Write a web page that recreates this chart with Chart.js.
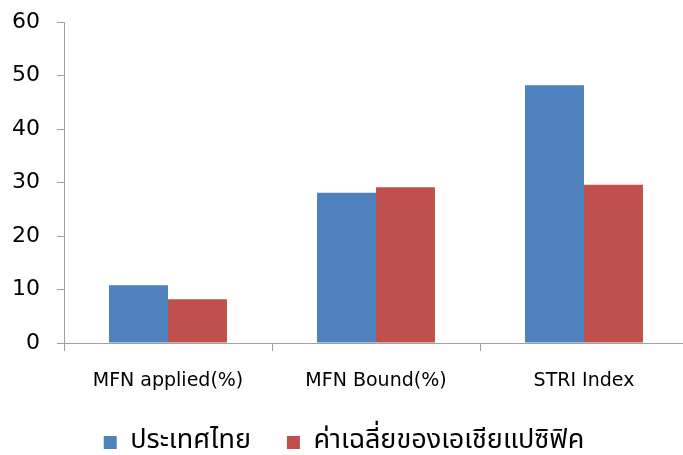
<!DOCTYPE html>
<html>
<head>
<meta charset="utf-8">
<script src="https://cdn.jsdelivr.net/npm/chart.js@4/dist/chart.umd.min.js"></script>
<style>
  html, body { margin: 0; padding: 0; background: #fff; overflow: hidden; }
  #wrap { position: relative; width: 690px; height: 470px; }
</style>
</head>
<body>
<div id="wrap"><canvas id="c"></canvas></div>
<script>
const categories = ["MFN applied(%)", "MFN Bound(%)", "STRI Index"];
const seriesNames = ["ประเทศไทย", "ค่าเฉลี่ยของเอเชียแปซิฟิค"];
const thailand = [10.8, 28.1, 48.2];
const asiaPacific = [8.2, 29.1, 29.6];
const yTicks = [0, 10, 20, 30, 40, 50, 60];

const axisGray = '#A0A0A0';

new Chart(document.getElementById('c'), {
  type: 'bar',
  data: {
    labels: categories,
    datasets: [
      { label: seriesNames[0], data: thailand, backgroundColor: '#4F81BD', borderWidth: 0 },
      { label: seriesNames[1], data: asiaPacific, backgroundColor: '#C0504D', borderWidth: 0 }
    ]
  },
  options: {
    responsive: true,
    maintainAspectRatio: false,
    animation: false,
    layout: { padding: { left: 0, right: 2, top: 0, bottom: 4 } },
    datasets: { bar: { categoryPercentage: 0.567, barPercentage: 1.0 } },
    plugins: {
      tooltip: { enabled: false },
      legend: {
        position: 'bottom',
        labels: {
          boxWidth: 13,
          boxHeight: 13,
          padding: 36,
          color: '#000',
          font: { family: '"Noto Sans Thai", "Noto Sans", "DejaVu Sans", sans-serif', size: 27 }
        }
      }
    },
    scales: {
      x: {
        afterFit: (s) => { s.height = 50; },
        grid: { display: true, drawOnChartArea: false, drawTicks: true, tickLength: 8, color: axisGray, lineWidth: 1, offset: true },
        border: { display: true, color: axisGray, width: 1 },
        ticks: { color: '#000', padding: 19, font: { family: '"DejaVu Sans", sans-serif', size: 19 } }
      },
      y: {
        min: 0,
        max: 60,
        afterFit: (s) => { s.width = 64; s.paddingTop = 22; s.paddingBottom = 0; },
        afterBuildTicks: (s) => { s.ticks = yTicks.map(v => ({ value: v })); },
        grid: { display: true, drawOnChartArea: false, drawTicks: true, tickLength: 7, color: axisGray, lineWidth: 1 },
        border: { display: true, color: axisGray, width: 1 },
        ticks: { color: '#000', padding: 17, font: { family: '"DejaVu Sans", sans-serif', size: 22 } }
      }
    }
  }
});
</script>
</body>
</html>
